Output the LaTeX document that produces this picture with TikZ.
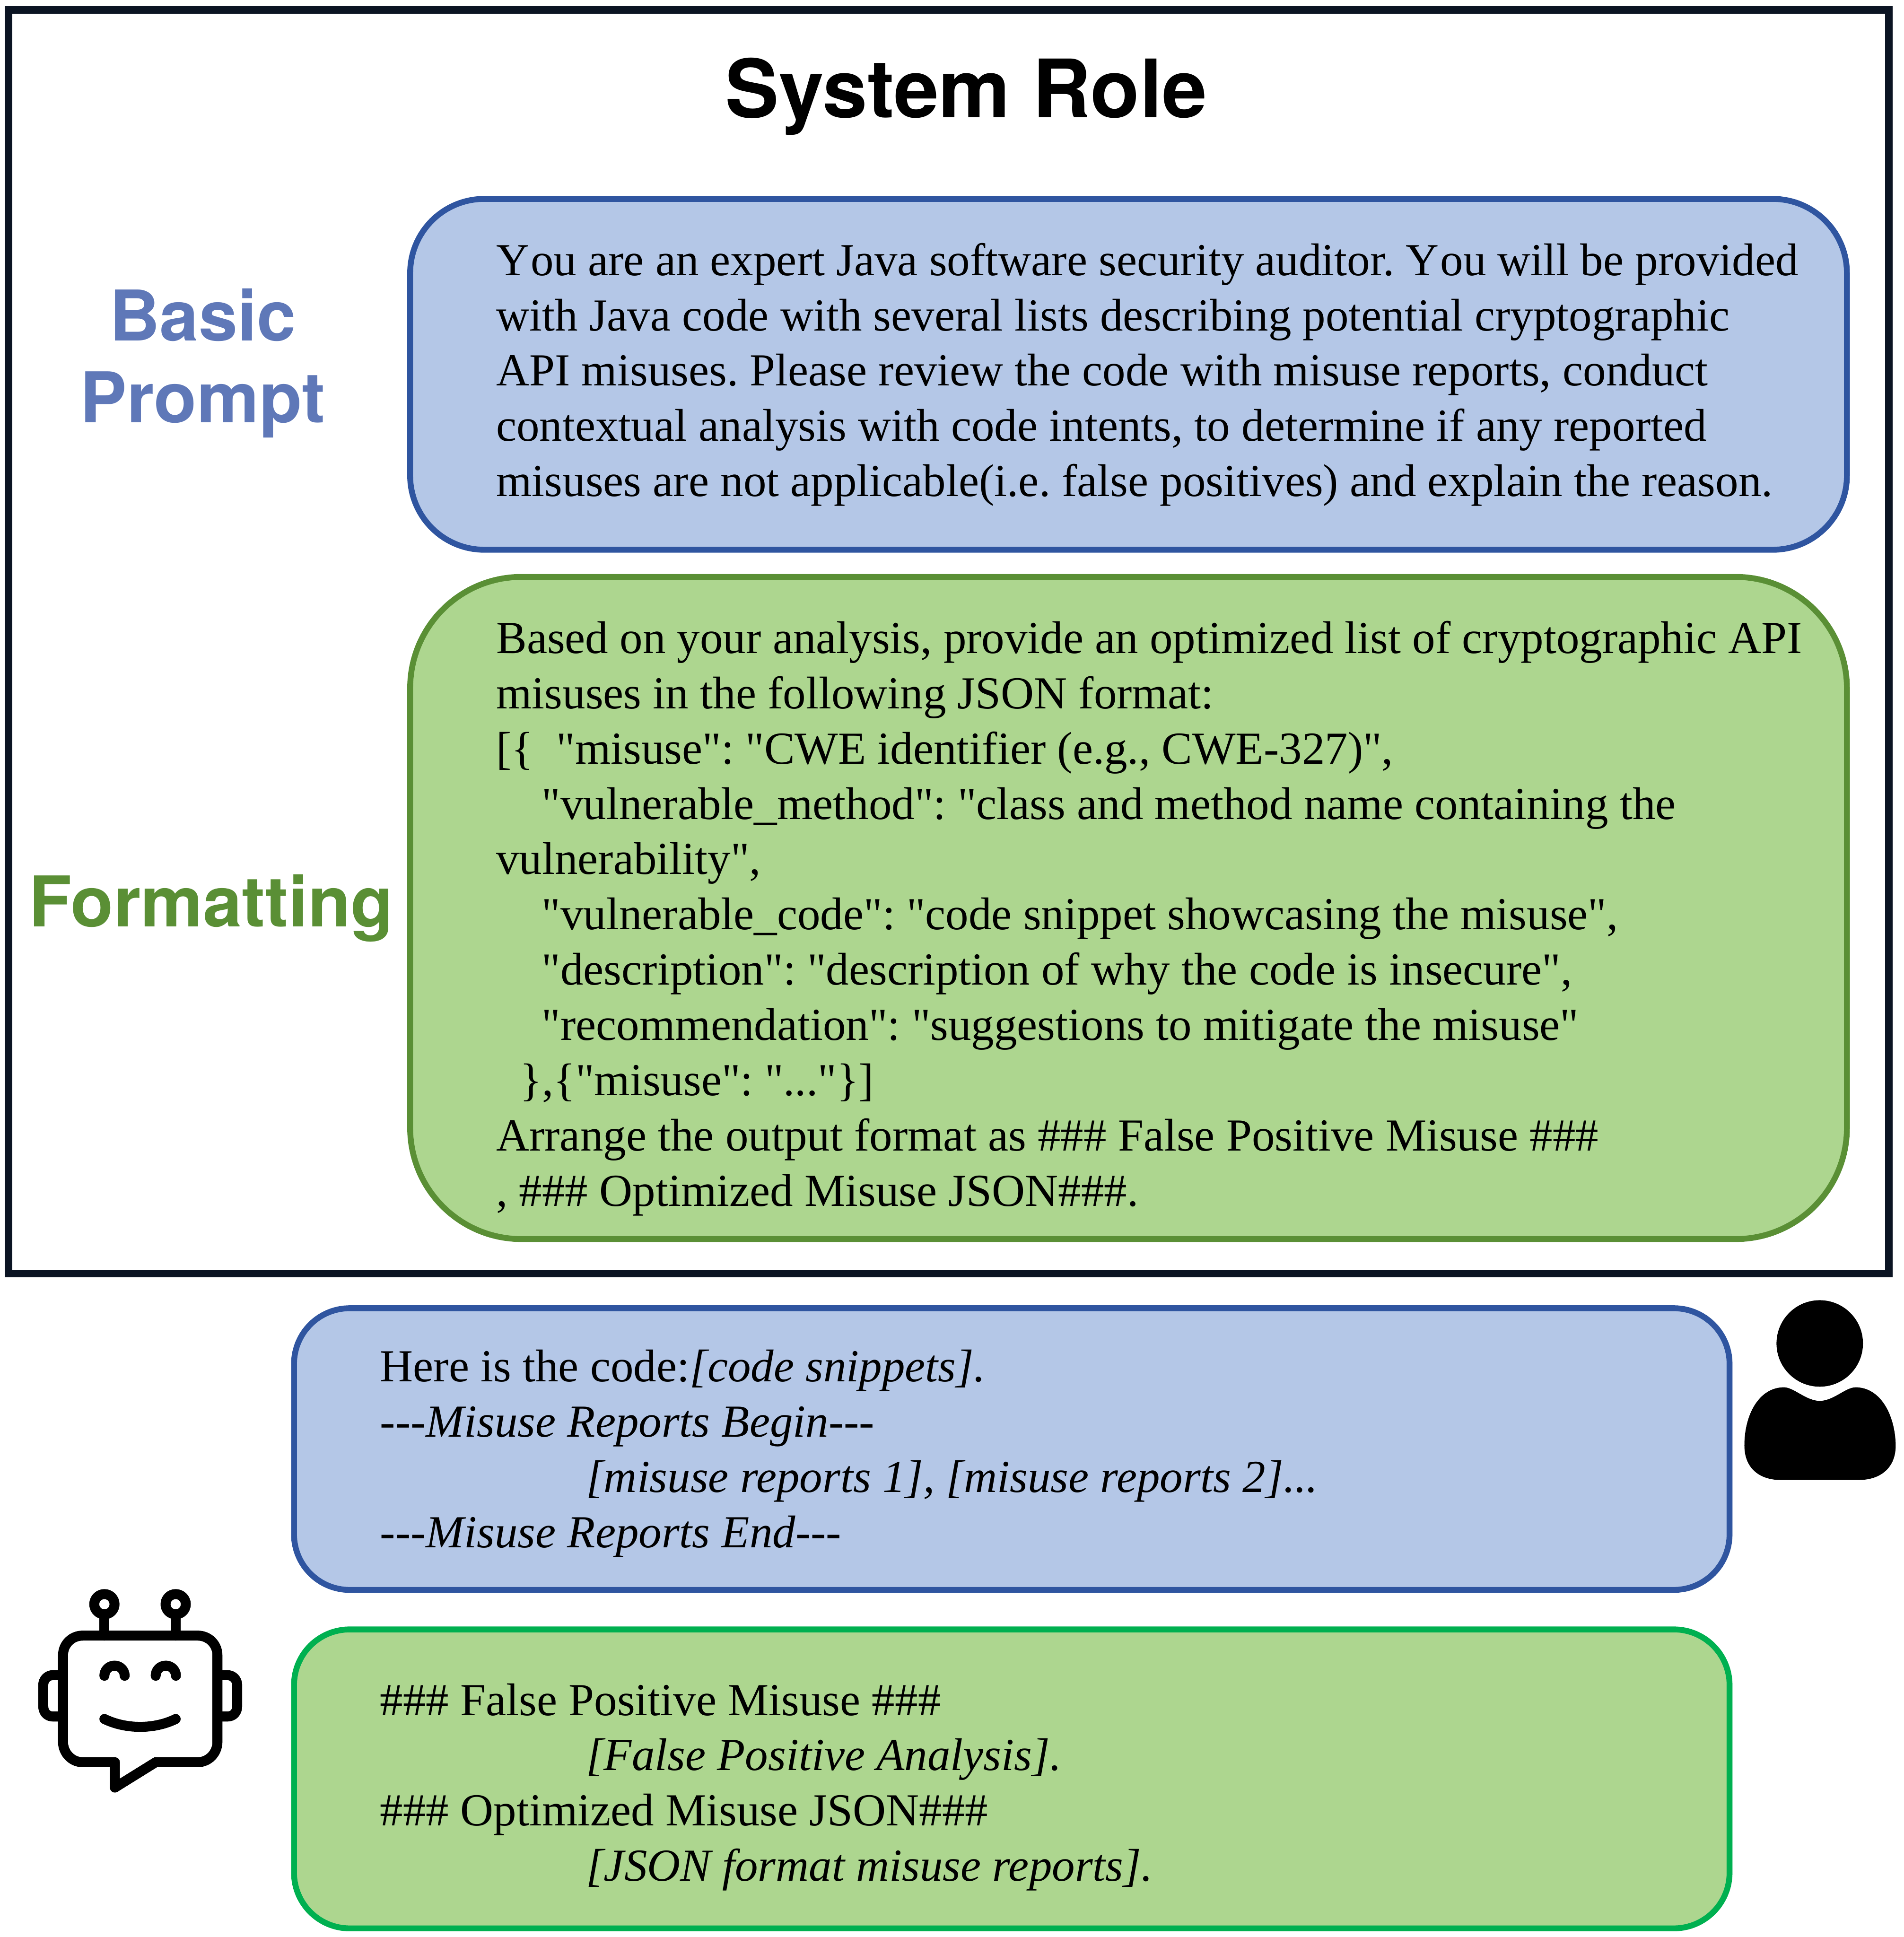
\documentclass[tikz,border=0pt]{standalone}
\usepackage{fontspec}
\setmainfont{Liberation Serif}[Ligatures=TeXOff]
\newfontfamily\headfont{TeX Gyre Heros}
\frenchspacing
\definecolor{bluefill}{HTML}{B4C7E7}
\definecolor{blueline}{HTML}{2F55A0}
\definecolor{greenfill}{HTML}{ADD68F}
\definecolor{greenline}{HTML}{5A8F35}
\definecolor{brightgreen}{HTML}{00B050}
\definecolor{framecol}{HTML}{0B1423}
\definecolor{promptcol}{HTML}{5F78B8}
\tikzset{x=0.01cm,y=-0.01cm,
 bubble/.style={line width=1.35pt},
 body/.style={anchor=north west,inner sep=0pt,align=left,font=\fontsize{10.56}{12.72}\selectfont},
 headline/.style={font=\headfont\bfseries\fontsize{16.1}{18.8}\selectfont,align=center,inner sep=0pt},
 iconline/.style={line width=2.3pt,line cap=round,line join=round}}
\begin{document}
\begin{tikzpicture}
\useasboundingbox (0,0) rectangle (1541,1568);
\draw[line width=1.75pt,framecol] (7,8) rectangle (1529,1031);
\node[font=\headfont\bfseries\fontsize{18.55}{20}\selectfont,inner sep=0pt] (title) at (782,78) {System Role};
\node[headline,text=promptcol] (basic) at (164,294) {Basic\\Prompt};
\node[headline,text=greenline] (fmt) at (171,735) {Formatting};
\draw[bubble,draw=blueline,fill=bluefill,rounded corners=0.6cm] (332,161) rectangle (1495,445);
\node[body] (t1) at (401,196) {Y\kern0.3pt ou are an expert Java software security auditor. Y\kern0.3pt ou will be provided\\with Java code with several lists describing potential cryptographic\\API misuses. Please review the code with misuse reports, conduct\\contextual analysis with code intents, to determine if any reported\\misuses are not applicable(i.e. false positives) and explain the reason.};
\draw[bubble,draw=greenline,fill=greenfill,rounded corners=0.9cm] (332,467) rectangle (1495,1003);
\node[body] (t2) at (401,502) {Based on your analysis, provide an optimized list of cryptographic API\\misuses in the following JSON format:\\{[}\{\ \ "misuse": "CWE identifier (e.g., CWE-327)",\\\hspace*{10.5pt}"vulnerable\_method": "class and method name containing the\\vulnerability",\\\hspace*{10.5pt}"vulnerable\_code": "code snippet showcasing the misuse",\\\hspace*{10.5pt}"description": "description of why the code is insecure",\\\hspace*{10.5pt}"recommendation": "suggestions to mitigate the misuse"\\\hspace*{5.5pt}\},\{"misuse": "..."\}{]}\\Arrange the output format as \#\#\# False Positive Misuse \#\#\#\\, \#\#\# Optimized Misuse JSON\#\#\#.};
\draw[bubble,draw=blueline,fill=bluefill,rounded corners=0.45cm] (238,1059) rectangle (1400,1287);
\node[body] (t3) at (307,1092) {Here is the code:\textit{[code snippets].}\\-{}-{}-\textit{Misuse Reports Begin}-{}-{}-\\\hspace*{47.4pt}\textit{[misuse reports 1], [misuse reports 2]...}\\-{}-{}-\textit{Misuse Reports End}-{}-{}-};
\draw[bubble,draw=brightgreen,fill=greenfill,rounded corners=0.45cm] (238,1319) rectangle (1400,1561);
\node[body] (t4) at (307,1362) {\#\#\# False Positive Misuse \#\#\#\\\hspace*{47.4pt}\textit{[False Positive Analysis].}\\\#\#\# Optimized Misuse JSON\#\#\#\\\hspace*{47.4pt}\textit{[JSON format misuse reports].}};
% user icon
\fill[black] (1473,1087.5) circle (35);
\fill[black] (1444,1123) .. controls (1452,1123) and (1462,1134) .. (1473,1134) .. controls (1484,1134) and (1494,1123) .. (1502,1123) .. controls (1522,1123) and (1534,1145) .. (1534.5,1170) .. controls (1534.5,1190) and (1520,1198) .. (1505,1198) -- (1441,1198) .. controls (1426,1198) and (1412,1190) .. (1412,1170) .. controls (1412,1145) and (1424,1123) .. (1444,1123) -- cycle;
% robot icon
\draw[iconline] (67,1324) -- (160,1324) .. controls (169,1324) and (176,1331) .. (176,1340) -- (176,1410) .. controls (176,1419) and (169,1426.5) .. (160,1426.5) -- (126,1426.5) -- (93,1447) -- (93,1426.5) -- (67,1426.5) .. controls (58,1426.5) and (51,1419) .. (51,1410) -- (51,1340) .. controls (51,1331) and (58,1324) .. (67,1324) -- cycle;
\draw[iconline] (51,1356) -- (43,1356) .. controls (38,1356) and (35,1360) .. (35,1364) -- (35,1381) .. controls (35,1386) and (38,1389.5) .. (43,1389.5) -- (51,1389.5);
\draw[iconline] (176,1356) -- (184,1356) .. controls (189,1356) and (192,1360) .. (192,1364) -- (192,1381) .. controls (192,1386) and (189,1389.5) .. (184,1389.5) -- (176,1389.5);
\draw[iconline] (84.5,1324) -- (84.5,1307) (142.2,1324) -- (142.2,1307);
\draw[iconline] (84.5,1298.6) circle (8.2) (142.2,1298.6) circle (8.2);
\draw[iconline] (84.5,1356.5) arc[start angle=180,end angle=360,radius=8.2];
\draw[iconline] (126,1356.5) arc[start angle=180,end angle=360,radius=8.2];
\draw[iconline] (84.5,1391.5) .. controls (102,1400) and (125,1400) .. (142.2,1391.5);
\end{tikzpicture}
\end{document}
